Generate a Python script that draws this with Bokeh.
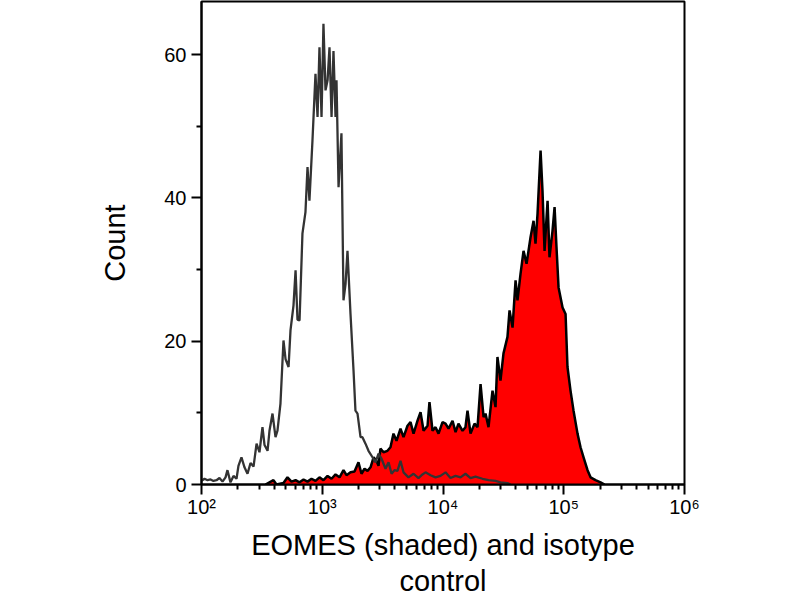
from bokeh.plotting import figure
from bokeh.models import ColumnDataSource, FixedTicker, Range1d
from bokeh.embed import file_html
from bokeh.resources import INLINE

# isotype control (open grey histogram): log10 fluorescence, cell count
iso_log_fl = [2.000, 2.025, 2.050, 2.075, 2.099, 2.124, 2.149, 2.174, 2.199, 2.215,
              2.240, 2.265, 2.290, 2.306, 2.331, 2.356, 2.381, 2.406, 2.431, 2.456,
              2.480, 2.505, 2.522, 2.547, 2.563, 2.588, 2.613, 2.629, 2.654, 2.679,
              2.696, 2.721, 2.737, 2.762, 2.779, 2.795, 2.812, 2.836, 2.861, 2.878,
              2.894, 2.919, 2.944, 2.961, 2.977, 2.994, 3.010, 3.027, 3.044, 3.060,
              3.077, 3.093, 3.110, 3.118, 3.135, 3.159, 3.176, 3.193, 3.209, 3.234,
              3.259, 3.275, 3.292, 3.317, 3.333, 3.358, 3.383, 3.416, 3.441, 3.466,
              3.491, 3.524, 3.549, 3.574, 3.598, 3.623, 3.648, 3.673, 3.714, 3.756,
              3.797, 3.830, 3.855, 3.897, 3.938, 3.979, 4.021, 4.062, 4.104, 4.145,
              4.186, 4.228, 4.269, 4.327, 4.377, 4.435, 4.476, 4.534, 4.559]
iso_count = [0.5, 0.8, 0.6, 0.7, 0.5, 0.6, 0.9, 0.4, 1.0, 2.0,
             0.3, 1.2, 0.8, 2.6, 3.8, 2.4, 1.5, 3.0, 2.5, 5.7,
             4.5, 8.0, 5.5, 4.7, 7.5, 9.9, 6.6, 7.5, 11.3, 20.1,
             17.5, 16.4, 21.5, 25.0, 29.9, 23.0, 22.9, 35.0, 38.0, 44.3,
             39.6, 48.0, 57.3, 51.3, 61.0, 51.3, 64.3, 55.0, 56.4, 61.0,
             51.3, 60.5, 51.3, 56.4, 41.5, 49.0, 25.7, 28.0, 32.6, 23.8,
             15.9, 10.3, 9.9, 6.6, 6.6, 5.7, 4.7, 3.8, 3.1, 4.3,
             3.6, 2.2, 3.1, 1.5, 2.0, 1.9, 3.3, 1.7, 1.0, 1.5,
             0.9, 1.4, 1.7, 1.3, 1.0, 1.2, 1.7, 0.9, 1.2, 1.0,
             1.5, 0.9, 1.1, 0.8, 0.6, 0.5, 0.3, 0.2, 0.0]

# EOMES stained cells (red shaded histogram)
eomes_log_fl = [2.530, 2.596, 2.621, 2.679, 2.712, 2.745, 2.779, 2.812, 2.845, 2.878,
                2.911, 2.944, 2.977, 3.010, 3.044, 3.077, 3.110, 3.143, 3.176, 3.201,
                3.234, 3.267, 3.300, 3.325, 3.350, 3.375, 3.400, 3.425, 3.449, 3.466,
                3.482, 3.507, 3.540, 3.565, 3.590, 3.615, 3.648, 3.673, 3.706, 3.731,
                3.756, 3.789, 3.814, 3.839, 3.872, 3.888, 3.913, 3.938, 3.963, 3.996,
                4.021, 4.046, 4.079, 4.104, 4.128, 4.162, 4.186, 4.203, 4.228, 4.261,
                4.286, 4.311, 4.336, 4.352, 4.377, 4.410, 4.435, 4.451, 4.476, 4.501,
                4.534, 4.551, 4.576, 4.601, 4.617, 4.642, 4.667, 4.692, 4.725, 4.750,
                4.766, 4.783, 4.808, 4.824, 4.841, 4.866, 4.882, 4.907, 4.924, 4.940,
                4.957, 4.990, 5.015, 5.031, 5.056, 5.081, 5.114, 5.139, 5.164, 5.197,
                5.222, 5.263, 5.305, 5.338]
eomes_count = [0.0, 0.6, 0.0, 0.2, 1.0, 0.4, 0.6, 0.3, 0.7, 0.4,
               0.8, 0.5, 1.0, 0.6, 1.2, 0.8, 1.4, 1.0, 2.0, 1.3,
               1.7, 1.8, 3.1, 1.5, 2.2, 1.9, 2.4, 3.8, 3.3, 2.6,
               5.0, 4.5, 4.7, 5.2, 7.1, 6.1, 7.8, 6.6, 8.2, 8.7,
               7.1, 8.9, 10.1, 7.5, 8.2, 11.5, 7.5, 8.0, 7.1, 8.7,
               8.5, 7.8, 8.9, 7.3, 8.5, 7.5, 8.0, 10.3, 7.1, 8.5,
               8.0, 14.0, 9.4, 9.9, 8.0, 13.1, 10.8, 17.8, 14.5, 18.3,
               20.6, 24.3, 21.9, 28.5, 25.7, 29.4, 32.6, 30.8, 34.5, 36.8,
               33.6, 37.8, 46.6, 41.0, 32.6, 39.6, 31.7, 35.4, 38.7, 33.1,
               27.5, 24.7, 23.8, 16.4, 13.1, 10.3, 7.1, 5.2, 3.8, 2.0,
               1.0, 0.6, 0.3, 0.0]

decades = [2, 3, 4, 5, 6]
decade_labels = ["10²", "10³", "10⁴", "10⁵", "10⁶"]
count_ticks = [0, 20, 40, 60]
count_minor = [10, 30, 50]

FONT = "Liberation Sans"

iso = ColumnDataSource(dict(fl=[10 ** v for v in iso_log_fl], count=iso_count))
eomes = ColumnDataSource(dict(fl=[10 ** v for v in eomes_log_fl], count=eomes_count))

p = figure(width=800, height=600, x_axis_type="log",
           x_range=Range1d(1e2, 1e6), y_range=Range1d(0, 67.4),
           output_backend="svg", toolbar_location=None, tools="",
           min_border_left=201, min_border_right=116,
           min_border_top=1, min_border_bottom=116)

p.varea(x="fl", y1=0, y2="count", source=eomes, fill_color="#ff0000")
p.line(x="fl", y="count", source=eomes, line_color="black", line_width=2.5)
p.line(x="fl", y="count", source=iso, line_color="#333333", line_width=2.3)

p.grid.visible = False
p.outline_line_color = "black"
p.outline_line_width = 2
p.outline_line_alpha = 1

minor = [m * 10 ** d for d in decades[:-1] for m in range(2, 10)]
p.xaxis.ticker = FixedTicker(ticks=[10 ** d for d in decades], minor_ticks=minor)
p.xaxis.major_label_overrides = {float(10 ** d): lab for d, lab in zip(decades, decade_labels)}
p.yaxis.ticker = FixedTicker(ticks=count_ticks, minor_ticks=count_minor)

p.xaxis.axis_label = "EOMES (shaded) and isotype\ncontrol"
p.yaxis.axis_label = "Count"

for ax in (p.xaxis, p.yaxis):
    ax.axis_line_width = 2
    ax.axis_line_color = "black"
    ax.major_tick_line_width = 2
    ax.minor_tick_line_width = 2
    ax.major_tick_in = 0
    ax.minor_tick_in = 0
    ax.major_tick_out = 10
    ax.minor_tick_out = 5
    ax.major_label_text_font = FONT
    ax.major_label_text_font_size = "20px"
    ax.major_label_text_color = "black"
    ax.axis_label_text_font = FONT
    ax.axis_label_text_font_size = "29px"
    ax.axis_label_text_font_style = "normal"
    ax.axis_label_text_color = "black"

p.xaxis.major_label_standoff = 1
p.xaxis.axis_label_standoff = 8
p.xaxis.axis_label_text_line_height = 1.15
p.yaxis.major_label_standoff = 5
p.yaxis.axis_label_standoff = 30

open("out.html", "w").write(file_html(p, INLINE))
